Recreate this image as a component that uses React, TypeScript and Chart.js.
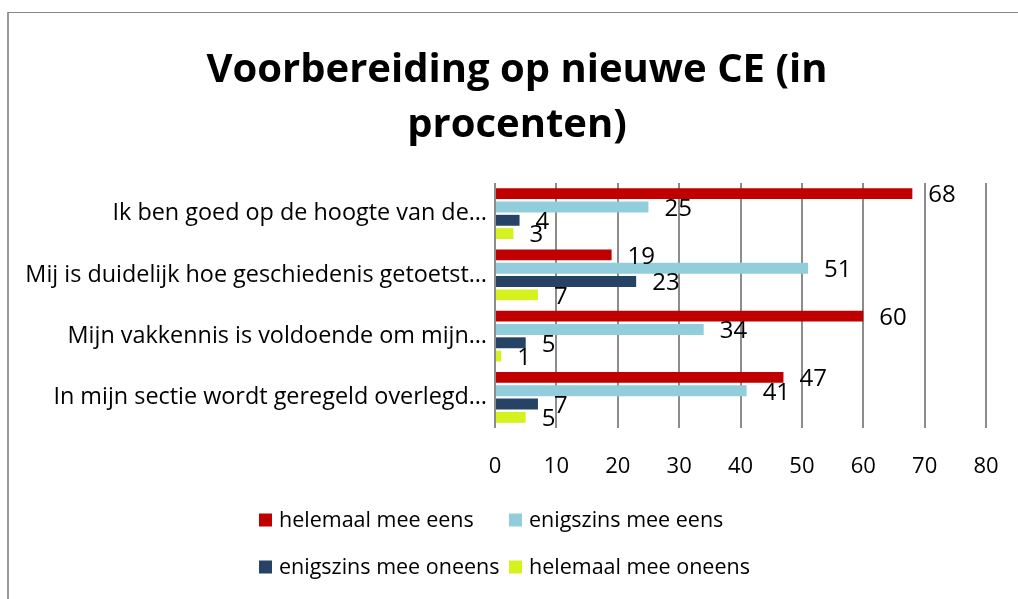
import React, { useEffect, useRef } from "react";
import { Chart, registerables } from "chart.js";

Chart.register(...registerables);

const categories = [
  "Ik ben goed op de hoogte van de…",
  "Mij is duidelijk hoe geschiedenis getoetst…",
  "Mijn vakkennis is voldoende om mijn…",
  "In mijn sectie wordt geregeld overlegd…",
];
const seriesNames = [
  "helemaal mee eens",
  "enigszins mee eens",
  "enigszins mee oneens",
  "helemaal mee oneens",
];
const helemaalMeeEens = [68, 19, 60, 47];
const enigszinsMeeEens = [25, 51, 34, 41];
const enigszinsMeeOneens = [4, 23, 5, 7];
const helemaalMeeOneens = [3, 7, 1, 5];
const seriesColors = ["#C00000", "#92CDDC", "#264264", "#D6F21E"];
const titleLines = ["Voorbereiding op nieuwe CE (in", "procenten)"];
const xMin = 0;
const xMax = 80;
const xStep = 10;

const FONT = "'Open Sans', 'Noto Sans', sans-serif";

const chartTitle = {
  id: "chartTitle",
  afterDraw(chart: any) {
    const ctx = chart.ctx;
    ctx.save();
    ctx.font = `bold 40px ${FONT}`;
    ctx.fillStyle = "#000";
    ctx.textAlign = "center";
    ctx.textBaseline = "middle";
    titleLines.forEach((line, i) => {
      ctx.fillText(line, 517, 70.5 + i * 55);
    });
    ctx.restore();
  },
};

const valueLabels = {
  id: "valueLabels",
  afterDatasetsDraw(chart: any) {
    const ctx = chart.ctx;
    ctx.save();
    ctx.font = `24px ${FONT}`;
    ctx.fillStyle = "#000";
    ctx.textAlign = "left";
    ctx.textBaseline = "middle";
    chart.data.datasets.forEach((ds: any, i: number) => {
      const meta = chart.getDatasetMeta(i);
      meta.data.forEach((bar: any, j: number) => {
        ctx.fillText(String(ds.data[j]), bar.x + 16, bar.y + 2);
      });
    });
    ctx.restore();
  },
};

const gridLegend = {
  id: "gridLegend",
  afterDraw(chart: any) {
    const ctx = chart.ctx;
    const colX = [259, 509];
    const rowY = [520, 567];
    ctx.save();
    ctx.font = `21.5px ${FONT}`;
    ctx.textAlign = "left";
    ctx.textBaseline = "middle";
    chart.data.datasets.forEach((ds: any, i: number) => {
      const x = colX[i % 2];
      const y = rowY[Math.floor(i / 2)];
      ctx.fillStyle = ds.backgroundColor;
      ctx.fillRect(x, y - 6.5, 13, 13);
      ctx.fillStyle = "#000";
      ctx.fillText(ds.label, x + 20, y + 1);
    });
    ctx.restore();
  },
};

export default function App() {
  const canvasRef = useRef<HTMLCanvasElement | null>(null);

  useEffect(() => {
    if (!canvasRef.current) return;
    const series = [helemaalMeeEens, enigszinsMeeEens, enigszinsMeeOneens, helemaalMeeOneens];
    const chart = new Chart(canvasRef.current, {
      type: "bar",
      data: {
        labels: categories,
        datasets: series.map((d, i) => ({
          label: seriesNames[i],
          data: d,
          backgroundColor: seriesColors[i],
          borderWidth: 0,
          categoryPercentage: 0.87,
          barPercentage: 0.82,
        })),
      },
      options: {
        indexAxis: "y",
        animation: false,
        responsive: true,
        maintainAspectRatio: false,
        layout: { padding: { left: 0, right: 32, top: 183, bottom: 111 } },
        plugins: {
          legend: { display: false },
          tooltip: { enabled: false },
          title: { display: false },
        },
        scales: {
          x: {
            min: xMin,
            max: xMax,
            ticks: { stepSize: xStep, color: "#000", font: { family: FONT, size: 22 }, padding: 0 },
            grid: {
              color: "#8c8c8c",
              lineWidth: 2,
              drawTicks: true,
              tickLength: 26,
              tickColor: "rgba(0,0,0,0)",
            },
            border: { display: false },
            afterFit(scale: any) {
              scale.height = 60;
            },
          },
          y: {
            ticks: { color: "#000", font: { family: FONT, size: 23.4 }, padding: 8 },
            grid: { display: false, drawTicks: false },
            border: { display: false },
            afterFit(scale: any) {
              scale.width = 495;
            },
          },
        },
      },
      plugins: [chartTitle, valueLabels, gridLegend],
    });
    return () => chart.destroy();
  }, []);

  return (
    <div
      style={{
        position: "absolute",
        left: 0,
        top: 0,
        width: 1018,
        height: 599,
        overflow: "hidden",
        background: "#fff",
      }}
    >
      <div
        style={{
          position: "absolute",
          left: 7,
          top: 12,
          width: 1100,
          height: 700,
          borderLeft: "2px solid #999",
          borderTop: "1px solid #888",
        }}
      />
      <canvas ref={canvasRef} style={{ position: "absolute", left: 0, top: 0, width: 1018, height: 599 }} />
    </div>
  );
}
